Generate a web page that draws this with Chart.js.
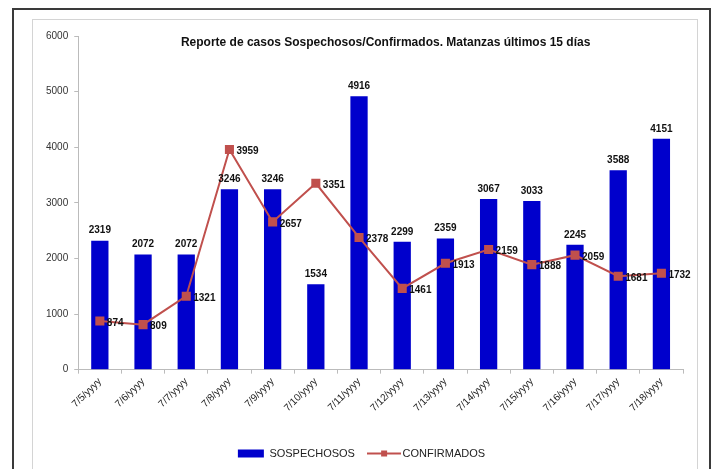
<!DOCTYPE html>
<html>
<head>
<meta charset="utf-8">
<script src="https://cdn.jsdelivr.net/npm/chart.js@4"></script>
<style>
  html, body { margin: 0; padding: 0; background: #fff; overflow: hidden; }
  #frame { position: absolute; left: 12px; top: 8px; width: 695px; height: 470px; border: 2px solid #3a3a3a; border-bottom: none; }
  #inner { position: absolute; left: 32px; top: 19px; width: 664px; height: 460px; border: 1px solid #d4d4d4; border-bottom: none; }
  #wrap { position: absolute; left: 0; top: 0; width: 723px; height: 469px; }
</style>
</head>
<body>
<div id="frame"></div>
<div id="inner"></div>
<div id="wrap"><canvas id="c"></canvas></div>
<script>
// Reporte de casos -- bars for suspected, line for confirmed
const DATES = ['7/5/yyyy', '7/6/yyyy', '7/7/yyyy', '7/8/yyyy', '7/9/yyyy', '7/10/yyyy', '7/11/yyyy',
  '7/12/yyyy', '7/13/yyyy', '7/14/yyyy', '7/15/yyyy', '7/16/yyyy', '7/17/yyyy', '7/18/yyyy'];
const SOSPECHOSOS = [2319, 2072, 2072, 3246, 3246, 1534, 4916, 2299, 2359, 3067, 3033, 2245, 3588, 4151];
const CONFIRMADOS = [874, 809, 1321, 3959, 2657, 3351, 2378, 1461, 1913, 2159, 1888, 2059, 1681, 1732];
const Y_TICKS = [0, 1000, 2000, 3000, 4000, 5000, 6000];

const TITLE = 'Reporte de casos Sospechosos/Confirmados. Matanzas últimos 15 días';
const BAR_COLOR = '#0000cc';
const LINE_COLOR = '#c0504d';
const NARROW = '"Liberation Sans Narrow", "Liberation Sans", Arial';
const LABEL_FONT = 'bold 10px "Liberation Sans", Arial';

// legend symbol for the line series: short line with a square marker
function lineSymbol() {
  const c = document.createElement('canvas');
  c.width = 34;
  c.height = 10;
  const g = c.getContext('2d');
  g.strokeStyle = LINE_COLOR;
  g.lineWidth = 2;
  g.beginPath();
  g.moveTo(0, 5);
  g.lineTo(34, 5);
  g.stroke();
  g.fillStyle = LINE_COLOR;
  g.fillRect(14, 2, 6, 6);
  return c;
}

// value labels + title drawn on top of the plot
const labelPlugin = {
  id: 'valueLabels',
  afterDatasetsDraw(chart) {
    const { ctx, chartArea } = chart;
    ctx.save();
    ctx.fillStyle = '#111';
    ctx.font = LABEL_FONT;

    chart.getDatasetMeta(0).data.forEach((bar, i) => {
      ctx.textAlign = 'center';
      ctx.textBaseline = 'bottom';
      ctx.fillText(SOSPECHOSOS[i], bar.x, bar.y - 5);
    });
    chart.getDatasetMeta(1).data.forEach((pt, i) => {
      ctx.textAlign = 'left';
      ctx.textBaseline = 'middle';
      ctx.fillText(CONFIRMADOS[i], pt.x + 7, pt.y + 2);
    });

    ctx.font = 'bold 12px "Liberation Sans", Arial';
    ctx.textAlign = 'center';
    ctx.textBaseline = 'middle';
    ctx.fillText(TITLE, (chartArea.left + chartArea.right) / 2 + 5, chartArea.top + 7);
    ctx.restore();
  },
};

new Chart(document.getElementById('c'), {
  data: {
    labels: DATES,
    datasets: [
      {
        type: 'bar',
        label: 'SOSPECHOSOS',
        data: SOSPECHOSOS,
        backgroundColor: BAR_COLOR,
        categoryPercentage: 1,
        barPercentage: 0.4,
        order: 2,
      },
      {
        type: 'line',
        label: 'CONFIRMADOS',
        data: CONFIRMADOS,
        borderColor: LINE_COLOR,
        backgroundColor: LINE_COLOR,
        borderWidth: 2,
        pointStyle: 'rect',
        pointRadius: 5,
        pointBackgroundColor: LINE_COLOR,
        pointBorderColor: LINE_COLOR,
        tension: 0,
        order: 1,
      },
    ],
  },
  options: {
    responsive: true,
    maintainAspectRatio: false,
    animation: false,
    layout: { padding: { left: 40, right: 40, top: 36, bottom: 0 } },
    plugins: {
      title: { display: false },
      tooltip: { enabled: false },
      legend: {
        position: 'bottom',
        labels: {
          color: '#222',
          font: { size: 11, family: NARROW },
          usePointStyle: true,
          pointStyleWidth: 26,
          boxHeight: 8,
          padding: 7,
          generateLabels: (chart) => {
            const items = Chart.defaults.plugins.legend.labels.generateLabels(chart);
            items.sort((a, b) => a.datasetIndex - b.datasetIndex);
            items[0].pointStyle = 'rect';
            items[0].lineWidth = 0;
            items[1].pointStyle = lineSymbol();
            items[0].text = 'SOSPECHOSOS\u00a0\u00a0\u00a0';
            return items;
          },
        },
      },
    },
    scales: {
      x: {
        grid: { drawOnChartArea: false, drawTicks: true, tickLength: 4, color: '#bbb' },
        border: { color: '#bbb' },
        ticks: { color: '#222', font: { size: 10, family: NARROW }, minRotation: 45, maxRotation: 45, padding: 2 },
        afterFit: (axis) => { axis.height += 25; },
      },
      y: {
        min: 0,
        max: 6000,
        afterBuildTicks: (axis) => { axis.ticks = Y_TICKS.map((v) => ({ value: v })); },
        grid: { drawOnChartArea: false, drawTicks: true, tickLength: 4, color: '#bbb' },
        border: { color: '#bbb' },
        ticks: { color: '#333', font: { size: 10, family: NARROW }, padding: 6, callback: (v) => String(v) },
      },
    },
  },
  plugins: [labelPlugin],
});
</script>
</body>
</html>
